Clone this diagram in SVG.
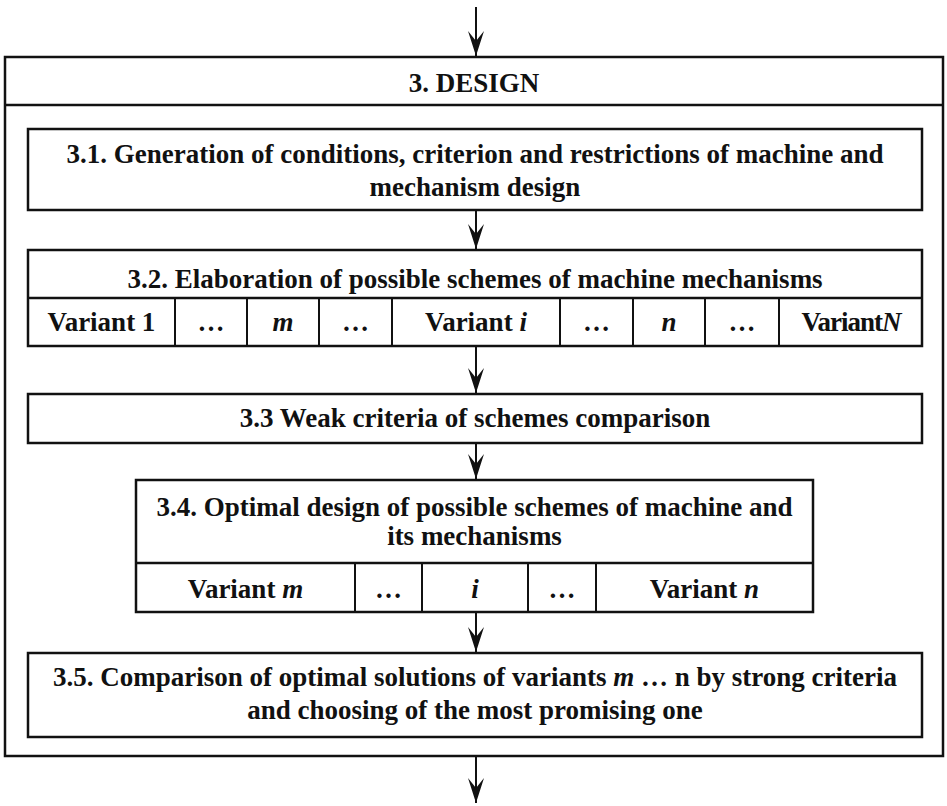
<svg xmlns="http://www.w3.org/2000/svg" width="947" height="806" viewBox="0 0 947 806">
  <style>
    .box { fill: #ffffff; stroke: #111111; stroke-width: 2.5; }
    .div { stroke: #111111; stroke-width: 2.5; fill: none; }
    .cell { stroke: #111111; stroke-width: 2; fill: none; }
    .t { font-family: "Liberation Serif", "Times New Roman", serif; font-weight: bold; font-size: 27px; text-anchor: middle; fill: #111111; }
    .i { font-style: italic; }
    .conn { stroke: #111111; stroke-width: 2; fill: none; marker-end: url(#head); }
  </style>
  <defs>
    <marker id="head" markerUnits="userSpaceOnUse" markerWidth="26" markerHeight="18" viewBox="0 0 26 18" refX="25" refY="9" orient="auto">
      <path d="M0,1 Q14,5.5 25,9 Q14,12.5 0,17 L10,9 Z" fill="#111111"/>
    </marker>
  </defs>

  <rect width="947" height="806" fill="#ffffff"/>

  <!-- outer stage frame -->
  <g id="design">
    <rect class="box" x="5" y="57" width="938" height="699"/>
    <line class="div" x1="5" y1="105" x2="943" y2="105"/>
    <text class="t" x="474" y="92">3. DESIGN</text>
  </g>

  <g id="step-3-1">
    <rect class="box" x="28" y="129" width="894" height="81"/>
    <text class="t" x="475" y="163">3.1. Generation of conditions, criterion and restrictions of machine and</text>
    <text class="t" x="475" y="196">mechanism design</text>
  </g>

  <g id="step-3-2">
    <rect class="box" x="28" y="250" width="894" height="96"/>
    <text class="t" x="475" y="288">3.2. Elaboration of possible schemes of machine mechanisms</text>
    <rect x="29.5" y="297" width="891" height="3" fill="#ffffff"/>
    <line class="div" x1="28" y1="298" x2="922" y2="298"/>
    <line class="cell" x1="175" y1="298" x2="175" y2="346"/>
    <line class="cell" x1="247" y1="298" x2="247" y2="346"/>
    <line class="cell" x1="319" y1="298" x2="319" y2="346"/>
    <line class="cell" x1="392" y1="298" x2="392" y2="346"/>
    <line class="cell" x1="560" y1="298" x2="560" y2="346"/>
    <line class="cell" x1="633" y1="298" x2="633" y2="346"/>
    <line class="cell" x1="705" y1="298" x2="705" y2="346"/>
    <line class="cell" x1="779" y1="298" x2="779" y2="346"/>
    <text class="t" x="101.5" y="331">Variant 1</text>
    <text class="t" x="211" y="331">…</text>
    <text class="t i" x="283" y="331">m</text>
    <text class="t" x="355.5" y="331">…</text>
    <text class="t" x="476" y="331">Variant <tspan class="i">i</tspan></text>
    <text class="t" x="596.5" y="331">…</text>
    <text class="t i" x="669" y="331">n</text>
    <text class="t" x="742" y="331">…</text>
    <text class="t" x="851" y="331" letter-spacing="-1">Variant<tspan class="i">N</tspan></text>
  </g>

  <g id="step-3-3">
    <rect class="box" x="28" y="394" width="894" height="49"/>
    <text class="t" x="475" y="427">3.3 Weak criteria of schemes comparison</text>
  </g>

  <g id="step-3-4">
    <rect class="box" x="136" y="480" width="677" height="132"/>
    <text class="t" x="474.5" y="516">3.4. Optimal design of possible schemes of machine and</text>
    <text class="t" x="474.5" y="545">its mechanisms</text>
    <line class="div" x1="136" y1="563" x2="813" y2="563"/>
    <line class="cell" x1="355" y1="563" x2="355" y2="612"/>
    <line class="cell" x1="422" y1="563" x2="422" y2="612"/>
    <line class="cell" x1="528" y1="563" x2="528" y2="612"/>
    <line class="cell" x1="596" y1="563" x2="596" y2="612"/>
    <text class="t" x="245.5" y="598">Variant <tspan class="i">m</tspan></text>
    <text class="t" x="388.5" y="598">…</text>
    <text class="t i" x="475" y="598">i</text>
    <text class="t" x="562" y="598">…</text>
    <text class="t" x="704.5" y="598">Variant <tspan class="i">n</tspan></text>
  </g>

  <g id="step-3-5">
    <rect class="box" x="28" y="653" width="894" height="84"/>
    <text class="t" x="475" y="686">3.5. Comparison of optimal solutions of variants <tspan class="i">m</tspan> … n by strong criteria</text>
    <text class="t" x="475" y="719">and choosing of the most promising one</text>
  </g>

  <!-- flow arrows between stages -->
  <g id="connectors">
    <line class="conn" x1="476" y1="7" x2="476" y2="56"/>
    <line class="conn" x1="476" y1="211" x2="476" y2="249"/>
    <line class="conn" x1="476" y1="347" x2="476" y2="393"/>
    <line class="conn" x1="476" y1="444" x2="476" y2="479"/>
    <line class="conn" x1="476" y1="613" x2="476" y2="652"/>
    <line class="conn" x1="476" y1="757" x2="476" y2="803"/>
  </g>
</svg>
